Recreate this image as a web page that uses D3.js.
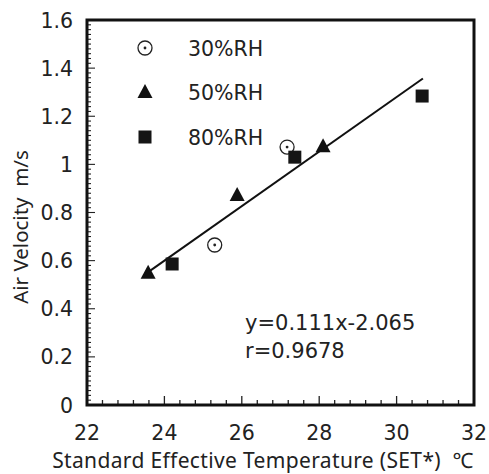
<!DOCTYPE html>
<html><head><meta charset="utf-8">
<script src="https://cdn.jsdelivr.net/npm/d3@7"></script>
<style>body{margin:0;background:#fff}text{font-family:"DejaVu Sans",sans-serif;fill:#222}.t{font-family:"Noto Sans",sans-serif;white-space:pre}</style>
</head><body>
<script>
const xTicks = [22, 24, 26, 28, 30, 32];
const yTicks = [0, 0.2, 0.4, 0.6, 0.8, 1, 1.2, 1.4, 1.6];
const rh30 = [[25.3, 0.665], [27.17, 1.072]];
const rh50 = [[23.58, 0.55], [25.88, 0.873], [28.1, 1.075]];
const rh80 = [[24.2, 0.586], [27.37, 1.03], [30.66, 1.284]];
const seriesNames = ["30%RH", "50%RH", "80%RH"];
const fitRange = [23.58, 30.68];
const slope = 0.111, intercept = -2.065;
const equationText = ["y=0.111x-2.065", "r=0.9678"];

const W = 489, H = 474;
const svg = d3.select("body").append("svg").attr("width", W).attr("height", H);
const x = d3.scaleLinear().domain([22, 32]).range([87, 474]);
const y = d3.scaleLinear().domain([0, 1.6]).range([405, 20]);

// minor ticks
const g = svg.append("g");
d3.range(22, 32.001, 0.4).forEach(v => {
  const major = Math.abs(v/2 - Math.round(v/2)) < 1e-6;
  g.append("line").attr("x1", x(v)).attr("x2", x(v)).attr("y1", y(0)).attr("y2", y(0) - (major ? 9 : 5))
    .attr("stroke", "#222").attr("stroke-width", 1.3);
});
d3.range(0, 1.6001, 0.02).forEach(v => {
  const major = Math.abs(v/0.2 - Math.round(v/0.2)) < 1e-6;
  g.append("line").attr("x1", x(22)).attr("x2", x(22) + (major ? 8 : 4)).attr("y1", y(v)).attr("y2", y(v))
    .attr("stroke", "#222").attr("stroke-width", 1.1);
});

// frame
svg.append("rect").attr("x", x(22)).attr("y", y(1.6)).attr("width", x(32) - x(22)).attr("height", y(0) - y(1.6))
  .attr("fill", "none").attr("stroke", "#111").attr("stroke-width", 3);

// tick labels
svg.selectAll(".xl").data(xTicks).enter().append("text")
  .attr("x", d => x(d)).attr("y", 440).attr("text-anchor", "middle").attr("font-size", 20.5).text(d => d);
svg.selectAll(".yl").data(yTicks).enter().append("text")
  .attr("x", 73).attr("y", d => y(d) + 7.5).attr("text-anchor", "end").attr("font-size", 20.5).text(d => d);

// axis titles
svg.append("text").attr("class", "t").attr("x", 263).attr("y", 468).attr("text-anchor", "middle").attr("font-size", 21)
  .attr("letter-spacing", 0.35)
  .text("Standard Effective Temperature (SET*)  \u2103");
svg.append("text").attr("class", "t").attr("transform", "translate(28,227) rotate(-90)").attr("text-anchor", "middle").attr("font-size", 20.5)
  .text("Air Velocity  m/s");

// regression line
svg.append("line").attr("x1", x(fitRange[0])).attr("y1", y(slope*fitRange[0] + intercept))
  .attr("x2", x(fitRange[1])).attr("y2", y(slope*fitRange[1] + intercept) - 4)
  .attr("stroke", "#111").attr("stroke-width", 2);

function circle(sel, cx, cy) {
  sel.append("circle").attr("cx", cx).attr("cy", cy).attr("r", 7).attr("fill", "#fff").attr("stroke", "#222").attr("stroke-width", 1.3);
  sel.append("circle").attr("cx", cx).attr("cy", cy).attr("r", 1.4).attr("fill", "#222");
}
function tri(sel, cx, cy) {
  sel.append("path").attr("d", `M${cx},${cy-8}L${cx+7.5},${cy+6}L${cx-7.5},${cy+6}Z`).attr("fill", "#111");
}
function sq(sel, cx, cy) {
  sel.append("rect").attr("x", cx-6.5).attr("y", cy-6.5).attr("width", 13).attr("height", 13).attr("fill", "#151515");
}
const pts = svg.append("g");
rh30.forEach(d => circle(pts, x(d[0]), y(d[1])));
rh50.forEach(d => tri(pts, x(d[0]), y(d[1])));
rh80.forEach(d => sq(pts, x(d[0]), y(d[1])));

// legend
const leg = svg.append("g");
const legY = [48, 92, 137];
const draws = [circle, tri, sq];
seriesNames.forEach((n, i) => {
  draws[i](leg, 145, legY[i]);
  leg.append("text").attr("x", 188).attr("y", legY[i] + 7.5).attr("font-size", 20.5).text(n);
});

// equation
equationText.forEach((t, i) => {
  svg.append("text").attr("x", 245).attr("y", 330 + i*28).attr("font-size", 21).text(t);
});
</script>
</body></html>
